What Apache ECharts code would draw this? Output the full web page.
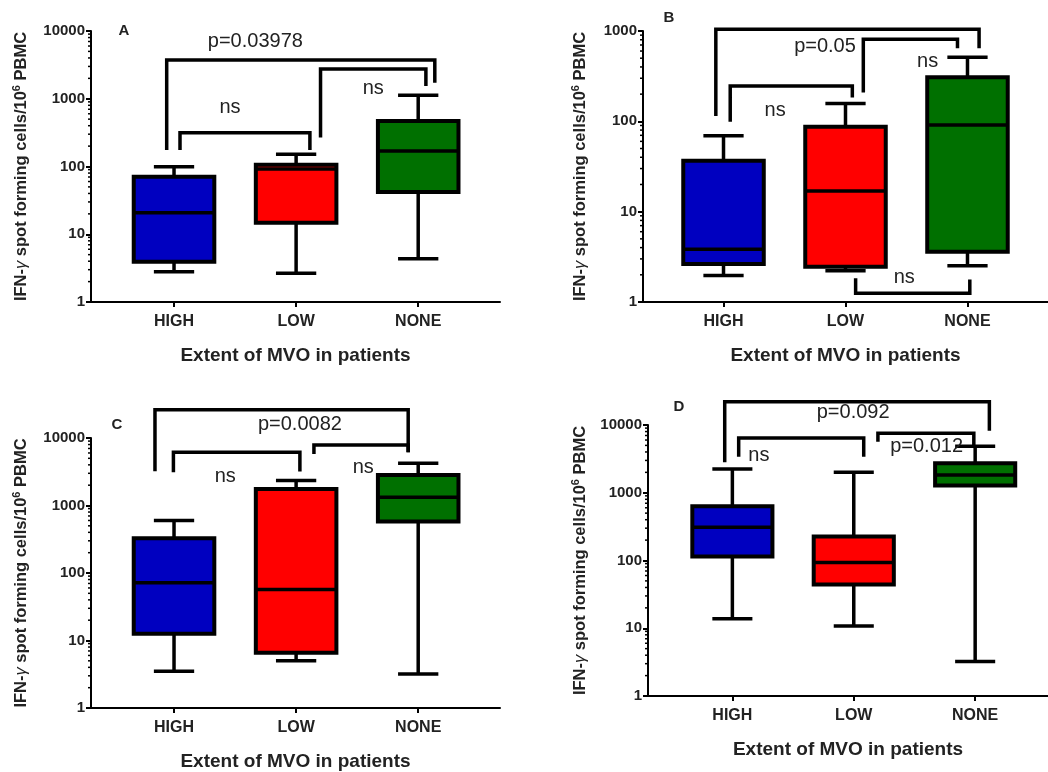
<!DOCTYPE html>
<html>
<head>
<meta charset="utf-8">
<script src="https://cdn.jsdelivr.net/npm/echarts@6/dist/echarts.min.js"></script>
<style>
  html, body { margin: 0; padding: 0; background: #fff; }
  #main { width: 1048px; height: 772px; }
</style>
</head>
<body>
<div id="main"></div>
<script>
var categories = ['HIGH', 'LOW', 'NONE'];
var groupColors = ['#0000c0', '#ff0000', '#007000'];

// box values per group: [min, q1, median, q3, max]
var boxA = [[2.8, 3.94, 20.8, 70.8, 99.5], [2.65, 14.8, 92, 106, 151], [4.36, 42, 169, 469, 1122]];
var boxB = [[1.97, 2.63, 3.83, 36.7, 69.4], [2.22, 2.46, 16.9, 87.3, 158], [2.52, 3.61, 91, 307, 511]];
var boxC = [[3.49, 12.6, 71.6, 328, 598], [5.02, 6.59, 57, 1760, 2338], [3.18, 578, 1325, 2836, 4218]];
var boxD = [[13.8, 114.6, 310, 632, 2245], [10.8, 44.3, 93.5, 226, 2005], [3.24, 1276, 1832, 2723, 4849]];

// significance brackets: [x left, x right, bar level, left leg end, right leg end]
var bracketsA = [[-0.06, 2.136, 3733, 175, 1727], [0.049, 1.113, 316, 175, 175], [1.2, 2.063, 2749, 269, 1542]];
var bracketsB = [[-0.063, 2.095, 1043, 114.6, 643], [0.055, 1.056, 246, 99, 184], [1.146, 1.918, 809, 208, 643], [1.083, 2.019, 1.25, 1.83, 1.78]];
var bracketsC = [[-0.156, 1.918, 26250, 3213, 6137], [-0.005, 1.031, 6137, 3105, 3177], [1.146, 1.918, 7877, 5797, 6137]];
var bracketsD = [[-0.063, 2.117, 22080, 2818, 8250], [0.052, 1.082, 6430, 3413, 3413], [1.199, 1.989, 7536, 5679, 4958]];

// bracket labels: [x, y, text]
var notesA = [[0.666, 6960, 'p=0.03978'], [0.458, 750, 'ns'], [1.632, 1425, 'ns']];
var notesB = [[0.832, 671, 'p=0.05'], [0.423, 133, 'ns'], [1.673, 458, 'ns'], [1.482, 1.86, 'ns']];
var notesC = [[1.031, 15750, 'p=0.0082'], [0.42, 2710, 'ns'], [1.55, 3681, 'ns']];
var notesD = [[0.995, 15370, 'p=0.092'], [0.218, 3530, 'ns'], [1.6, 4850, 'p=0.012']];

var minorTicks = [2, 3, 4, 5, 6, 7, 8, 9, 20, 30, 40, 50, 60, 70, 80, 90,
  200, 300, 400, 500, 600, 700, 800, 900, 2000, 3000, 4000, 5000, 6000, 7000, 8000, 9000];

var panels = [
  { letter: 'A', box: boxA, brackets: bracketsA, notes: notesA, yMax: 10000,
    grid: { left: 91, top: 31, width: 409, height: 271 }, xMin: -0.68, xMax: 2.67, nameGap: 60, letterPos: [124, 31] },
  { letter: 'B', box: boxB, brackets: bracketsB, notes: notesB, yMax: 1000,
    grid: { left: 643, top: 31, width: 405, height: 271 }, xMin: -0.66, xMax: 2.66, nameGap: 53, letterPos: [669, 18] },
  { letter: 'C', box: boxC, brackets: bracketsC, notes: notesC, yMax: 10000,
    grid: { left: 91, top: 438, width: 409, height: 271 }, xMin: -0.68, xMax: 2.67, nameGap: 60, letterPos: [117, 425] },
  { letter: 'D', box: boxD, brackets: bracketsD, notes: notesD, yMax: 10000,
    grid: { left: 648, top: 425, width: 403, height: 271 }, xMin: -0.695, xMax: 2.6, nameGap: 58, letterPos: [679, 407] }
];

var FONT = '"Liberation Sans", Arial, sans-serif';
var LW = 3.5;

function renderBox(params, api) {
  var x = api.value(0);
  var pMin = api.coord([x, api.value(1)]);
  var pQ1 = api.coord([x, api.value(2)]);
  var pMed = api.coord([x, api.value(3)]);
  var pQ3 = api.coord([x, api.value(4)]);
  var pMax = api.coord([x, api.value(5)]);
  var cx = pMed[0];
  var hw = api.coord([x + 0.33, api.value(3)])[0] - cx;
  var ch = hw / 2;
  var line = { stroke: '#000', lineWidth: LW };
  return {
    type: 'group',
    children: [
      { type: 'line', shape: { x1: cx, y1: pMax[1], x2: cx, y2: pQ3[1] }, style: line },
      { type: 'line', shape: { x1: cx, y1: pQ1[1], x2: cx, y2: pMin[1] }, style: line },
      { type: 'line', shape: { x1: cx - ch, y1: pMax[1], x2: cx + ch, y2: pMax[1] }, style: line },
      { type: 'line', shape: { x1: cx - ch, y1: pMin[1], x2: cx + ch, y2: pMin[1] }, style: line },
      { type: 'rect', shape: { x: cx - hw, y: pQ3[1], width: 2 * hw, height: pQ1[1] - pQ3[1] },
        style: { fill: groupColors[params.dataIndex], stroke: '#000', lineWidth: 4 } },
      { type: 'line', shape: { x1: cx - hw, y1: pMed[1], x2: cx + hw, y2: pMed[1] }, style: line }
    ]
  };
}

function renderBracket(params, api) {
  var a = api.coord([api.value(0), api.value(3)]);
  var b = api.coord([api.value(0), api.value(2)]);
  var c = api.coord([api.value(1), api.value(2)]);
  var d = api.coord([api.value(1), api.value(4)]);
  return {
    type: 'polyline',
    shape: { points: [a, b, c, d] },
    style: { stroke: '#000', lineWidth: LW, fill: null }
  };
}

function makeNoteRenderer(notes) {
  return function (params, api) {
    var p = api.coord([api.value(0), api.value(1)]);
    return {
      type: 'text',
      x: p[0], y: p[1],
      style: { text: notes[params.dataIndex][2], fill: '#222', font: '20px ' + FONT,
        align: 'center', verticalAlign: 'middle' }
    };
  };
}

function renderMinorTick(params, api) {
  var p = api.coord([api.value(0), api.value(1)]);
  return {
    type: 'line',
    shape: { x1: p[0] - 3, y1: p[1], x2: p[0], y2: p[1] },
    style: { stroke: '#000', lineWidth: 1.5 }
  };
}

var grids = [], xAxes = [], yAxes = [], series = [], graphics = [];

panels.forEach(function (pn, i) {
  grids.push(pn.grid);
  xAxes.push({
    type: 'value', gridIndex: i, min: pn.xMin, max: pn.xMax,
    name: 'Extent of MVO in patients', nameLocation: 'middle', nameGap: 44,
    nameTextStyle: { fontFamily: FONT, fontWeight: 'bold', fontSize: 19, color: '#222' },
    axisLine: { onZero: false, lineStyle: { color: '#000', width: 2 } },
    axisTick: { length: 5, lineStyle: { color: '#000', width: 2 }, customValues: [0, 1, 2] },
    axisLabel: { customValues: [0, 1, 2], margin: 12, fontFamily: FONT, fontWeight: 'bold', fontSize: 16, color: '#222',
      formatter: function (v) { return categories[Math.round(v)]; } },
    splitLine: { show: false }
  });
  yAxes.push({
    type: 'log', logBase: 10, gridIndex: i, min: 1, max: pn.yMax,
    name: '{a|IFN-}{g|γ}{a| spot forming cells/10}{s|6}{a| PBMC}',
    nameLocation: 'middle', nameGap: pn.nameGap, nameRotate: 90,
    nameTextStyle: {
      rich: {
        a: { fontFamily: FONT, fontWeight: 'bold', fontSize: 16.5, color: '#222', lineHeight: 20 },
        g: { fontFamily: FONT, fontStyle: 'italic', fontSize: 16.5, color: '#222', lineHeight: 20 },
        s: { fontFamily: FONT, fontWeight: 'bold', fontSize: 11, color: '#222', verticalAlign: 'top', lineHeight: 20 }
      }
    },
    axisLine: { show: true, onZero: false, lineStyle: { color: '#000', width: 2 } },
    axisTick: { show: true, length: 5, lineStyle: { color: '#000', width: 2 } },
    axisLabel: { margin: 6, fontFamily: FONT, fontWeight: 'bold', fontSize: 15, color: '#222',
      formatter: function (v) { return String(Math.round(v)); } },
    splitLine: { show: false }
  });
  series.push({
    type: 'custom', xAxisIndex: i, yAxisIndex: i, clip: false,
    data: pn.box.map(function (b, k) { return [k, b[0], b[1], b[2], b[3], b[4]]; }),
    encode: { x: 0, y: [1, 2, 3, 4, 5] },
    renderItem: renderBox
  });
  series.push({
    type: 'custom', xAxisIndex: i, yAxisIndex: i, clip: false,
    data: pn.brackets,
    encode: { x: [0, 1], y: [2, 3, 4] },
    renderItem: renderBracket
  });
  series.push({
    type: 'custom', xAxisIndex: i, yAxisIndex: i, clip: false,
    data: pn.notes.map(function (n) { return [n[0], n[1]]; }),
    encode: { x: 0, y: 1 },
    renderItem: makeNoteRenderer(pn.notes)
  });
  series.push({
    type: 'custom', xAxisIndex: i, yAxisIndex: i, clip: false,
    data: minorTicks.filter(function (v) { return v < pn.yMax; }).map(function (v) { return [pn.xMin, v]; }),
    encode: { x: 0, y: 1 },
    renderItem: renderMinorTick
  });
  graphics.push({
    type: 'text', x: pn.letterPos[0], y: pn.letterPos[1],
    style: { text: pn.letter, font: 'bold 15px ' + FONT, fill: '#222', align: 'center', verticalAlign: 'middle' }
  });
});

var chart = echarts.init(document.getElementById('main'));
chart.setOption({
  animation: false,
  backgroundColor: '#fff',
  grid: grids,
  xAxis: xAxes,
  yAxis: yAxes,
  series: series,
  graphic: graphics
});
window.addEventListener('resize', function () { chart.resize(); });
</script>
</body>
</html>
